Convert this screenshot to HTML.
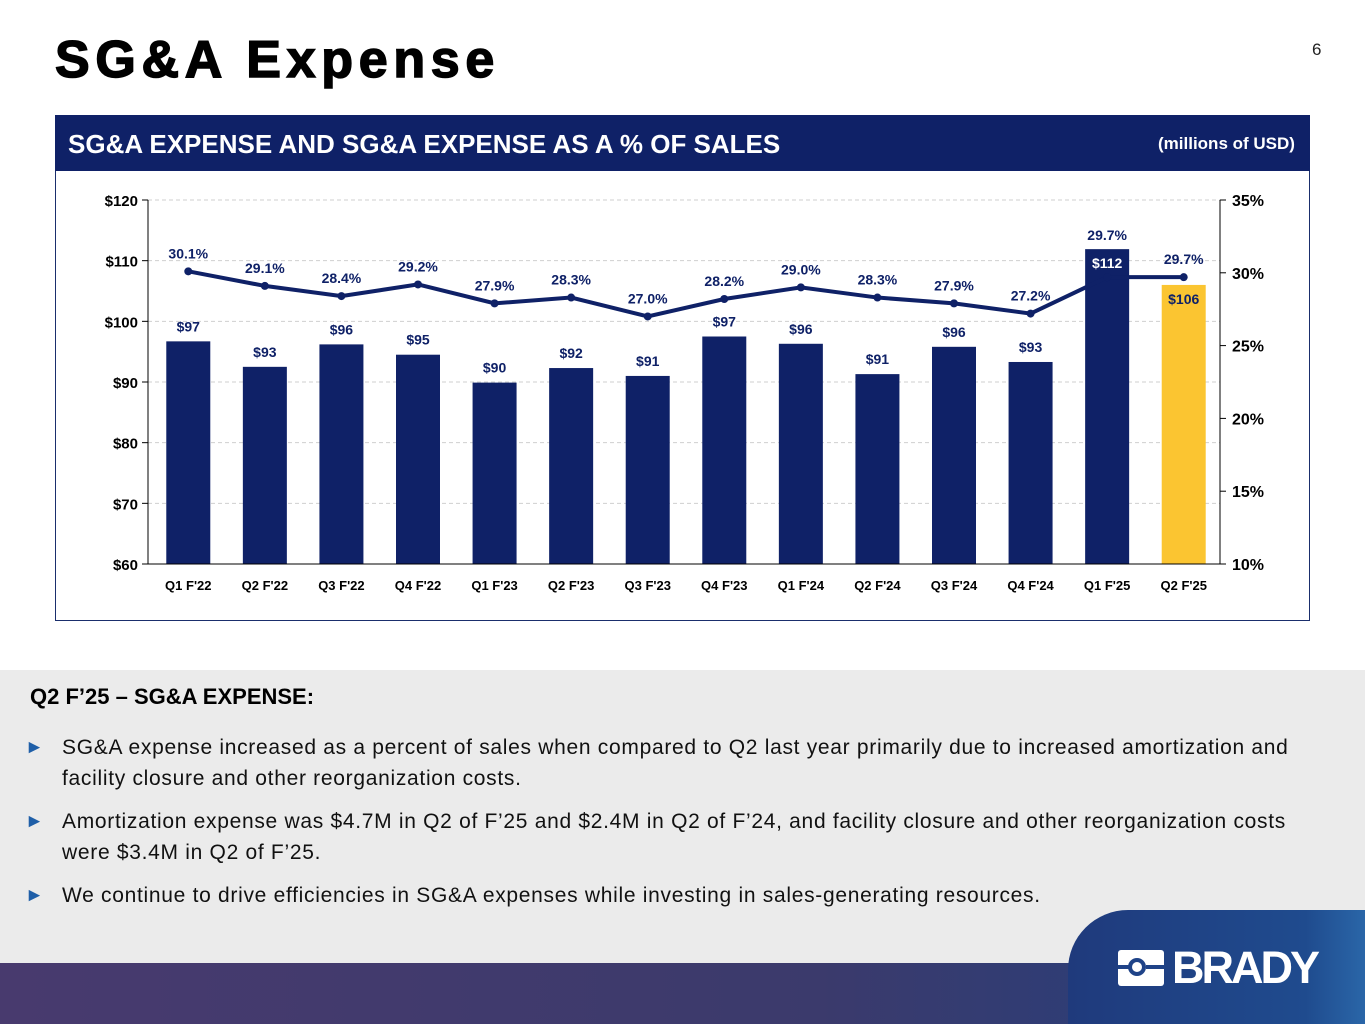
<!DOCTYPE html>
<html><head><meta charset="utf-8"><style>
body{margin:0;width:1365px;height:1024px;position:relative;overflow:hidden;background:#fff;font-family:"Liberation Sans",Arial,sans-serif}
.abs{position:absolute}
</style></head><body>
<div class="abs" style="left:55px;top:30px;font-size:52px;font-weight:bold;color:#000;letter-spacing:5.7px;-webkit-text-stroke:1.5px #000">SG&amp;A Expense</div>
<div class="abs" style="left:1312px;top:40px;font-size:17px;color:#222">6</div>
<div class="abs" style="left:55px;top:115px;width:1253px;height:504px;border:1px solid #1a2e6c"></div>
<div class="abs" style="left:55px;top:115px;width:1255px;height:56px;background:#0f2167"></div>
<div class="abs" style="left:68px;top:129px;font-size:26px;font-weight:bold;color:#fff">SG&amp;A EXPENSE AND SG&amp;A EXPENSE AS A % OF SALES</div>
<div class="abs" style="left:1158px;top:134px;font-size:17px;font-weight:bold;color:#fff">(millions of USD)</div>
<svg class="abs" style="left:0;top:0" width="1365" height="640" id="chart"></svg>
<div class="abs" style="left:0;top:670px;width:1365px;height:294px;background:#ebebeb"></div>
<div class="abs" style="left:30px;top:684px;font-size:22px;font-weight:bold;color:#000">Q2 F’25 – SG&amp;A EXPENSE:</div>
<div class="abs" style="left:25px;top:732px;width:1320px;font-size:21px;letter-spacing:0.7px;line-height:31px;color:#111;white-space:nowrap">
<div style="position:relative;padding-left:37px;margin-bottom:12px"><span style="position:absolute;left:0;color:#1f5fa8;font-size:19px">►</span>SG&amp;A expense increased as a percent of sales when compared to Q2 last year primarily due to increased amortization and<br>facility closure and other reorganization costs.</div>
<div style="position:relative;padding-left:37px;margin-bottom:12px"><span style="position:absolute;left:0;color:#1f5fa8;font-size:19px">►</span>Amortization expense was $4.7M in Q2 of F’25 and $2.4M in Q2 of F’24, and facility closure and other reorganization costs<br>were $3.4M in Q2 of F’25.</div>
<div style="position:relative;padding-left:37px"><span style="position:absolute;left:0;color:#1f5fa8;font-size:19px">►</span>We continue to drive efficiencies in SG&amp;A expenses while investing in sales-generating resources.</div>
</div>
<div class="abs" style="left:0;top:963px;width:1365px;height:61px;background:linear-gradient(90deg,#483a6e,#3b3a6c 60%,#22407f)"></div>
<div class="abs" style="left:1068px;top:910px;width:297px;height:114px;background:linear-gradient(90deg,#1f3a7c,#1f4b8e 80%,#2a66a8);border-top-left-radius:60px"></div>
<div class="abs" style="left:1118px;top:944px;">
<div style="position:absolute;left:0;top:6px;width:46px;height:36px;background:#fff;border-radius:3px"></div>
<div style="position:absolute;left:10px;top:14px;width:18px;height:18px;border-radius:50%;background:#1f4388;"></div>
<div style="position:absolute;left:14px;top:18px;width:10px;height:10px;border-radius:50%;background:#fff;"></div>
<div style="position:absolute;left:0;top:21px;width:12px;height:4px;background:#1f4388"></div>
<div style="position:absolute;left:28px;top:21px;width:18px;height:4px;background:#1f4388"></div>
<div style="position:absolute;left:54px;top:-2px;font-size:45px;font-weight:bold;color:#fff;letter-spacing:-3px">BRADY</div>
</div>
<script>
const categories=["Q1 F'22","Q2 F'22","Q3 F'22","Q4 F'22","Q1 F'23","Q2 F'23","Q3 F'23","Q4 F'23","Q1 F'24","Q2 F'24","Q3 F'24","Q4 F'24","Q1 F'25","Q2 F'25"];
const sgaValues=[96.7,92.5,96.2,94.5,89.9,92.3,91.0,97.5,96.3,91.3,95.8,93.3,111.9,106.0];
const sgaLabels=["$97","$93","$96","$95","$90","$92","$91","$97","$96","$91","$96","$93","$112","$106"];
const pctValues=[30.1,29.1,28.4,29.2,27.9,28.3,27.0,28.2,29.0,28.3,27.9,27.2,29.7,29.7];
const leftTicks=[60,70,80,90,100,110,120];
const rightTicks=[10,15,20,25,30,35];
const NS="http://www.w3.org/2000/svg",svg=document.getElementById('chart');
const L=148,R=1220,T=200,B=564,navy="#0f2167";
const yL=v=>B-(v-60)/60*(B-T);
const yR=v=>B-(v-10)/25*(B-T);
const step=(R-L)/categories.length;
const xC=i=>L+step*(i+0.5)+2;
function mk(t,a,txt){const e=document.createElementNS(NS,t);for(const k in a)e.setAttribute(k,a[k]);if(txt!==undefined)e.textContent=txt;svg.appendChild(e);return e;}
leftTicks.forEach(v=>{if(v>60){const g=mk('line',{x1:L,x2:R,y1:yL(v),y2:yL(v),stroke:'#cfcfcf','stroke-dasharray':'4,3'});

}
const t=mk('text',{x:L-10,y:yL(v)+6,'text-anchor':'end','font-size':15,'font-weight':'bold',fill:'#000','font-family':'Liberation Sans'},'$'+v);


mk('line',{x1:L-6,x2:L,y1:yL(v),y2:yL(v),stroke:'#000'});});
rightTicks.forEach(v=>{const t=mk('text',{x:R+12,y:yR(v)+6,'font-size':16,'font-weight':'bold',fill:'#000','font-family':'Liberation Sans'},v+'%');


mk('line',{x1:R,x2:R+6,y1:yR(v),y2:yR(v),stroke:'#000'});});
mk('line',{x1:L,x2:L,y1:T,y2:B,stroke:'#000'});
mk('line',{x1:R,x2:R,y1:T,y2:B,stroke:'#000'});
categories.forEach((c,i)=>{const last=i===categories.length-1;
const y=yL(sgaValues[i]);
const b=mk('rect',{x:xC(i)-22,y:y,width:44,height:B-y,fill:last?'#fbc531':navy});


const inside=sgaValues[i]>105;
const lb=mk('text',{x:xC(i),y:inside?y+19:y-10,'text-anchor':'middle','font-size':14,'font-weight':'bold',fill:inside?(last?navy:'#fff'):navy,'font-family':'Liberation Sans'},sgaLabels[i]);


const xl=mk('text',{x:xC(i),y:B+26,'text-anchor':'middle','font-size':13,'font-weight':'bold',fill:'#000','font-family':'Liberation Sans'},c);

});
mk('line',{x1:L,x2:R,y1:B,y2:B,stroke:'#000'});
const line=mk('polyline',{points:pctValues.map((v,i)=>xC(i)+','+yR(v)).join(' '),fill:'none',stroke:navy,'stroke-width':4});


pctValues.forEach((v,i)=>{const p=mk('circle',{cx:xC(i),cy:yR(v),r:4,fill:navy});


const up=(i===12)?yL(sgaValues[i])-9:yR(v)-13;
const t=mk('text',{x:xC(i),y:up,'text-anchor':'middle','font-size':14,'font-weight':'bold',fill:navy,'font-family':'Liberation Sans'},v.toFixed(1)+'%');

});
</script>
</body></html>
